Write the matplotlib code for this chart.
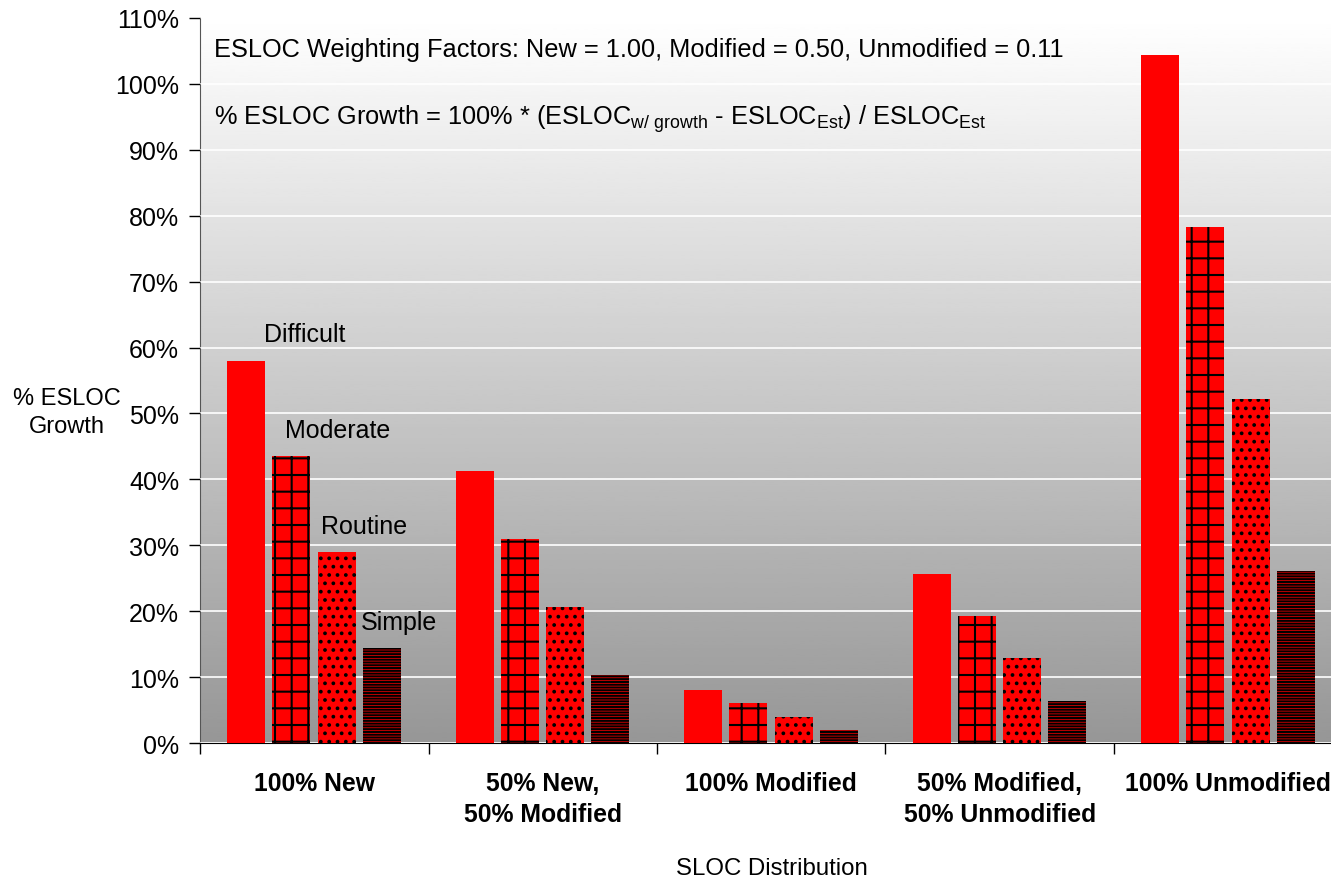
import numpy as np
import matplotlib
matplotlib.use('Agg')
import matplotlib.pyplot as plt

plt.rcParams['font.family'] = ['Liberation Sans', 'DejaVu Sans']
plt.rcParams['mathtext.fontset'] = 'custom'
plt.rcParams['mathtext.rm'] = 'Liberation Sans'
plt.rcParams['mathtext.it'] = 'Liberation Sans'
plt.rcParams['hatch.linewidth'] = 1.5

categories = ['100% New', '50% New,\n50% Modified', '100% Modified',
              '50% Modified,\n50% Unmodified', '100% Unmodified']
levels = ['Difficult', 'Moderate', 'Routine', 'Simple']
growth = {
    'Difficult': [58.0, 41.3, 8.0, 25.6, 104.4],
    'Moderate':  [43.5, 31.0, 6.0, 19.3, 78.3],
    'Routine':   [29.0, 20.6, 4.0, 12.9, 52.2],
    'Simple':    [14.4, 10.3, 2.0, 6.4, 26.1],
}
hatches = {'Difficult': None, 'Moderate': '+', 'Routine': '..', 'Simple': '------'}
yticks = np.arange(0, 111, 10)

fig = plt.figure(figsize=(13.31, 8.78), dpi=100)
ax = fig.add_axes([0.1503, 0.1526, 0.8497, 0.8258])

x = np.arange(len(categories))
ax.set_xlim(-0.5, 4.45)
ax.set_ylim(0, 110)

# grey vertical gradient behind the bars
grad = np.linspace(0.59, 1.0, 256).reshape(-1, 1)
ax.imshow(grad, cmap='gray', vmin=0, vmax=1, origin='lower', aspect='auto',
          extent=[0, 1, 0, 1], transform=ax.transAxes, zorder=0)

offsets = [-0.298, -0.1, 0.098, 0.295]
for lvl, off in zip(levels, offsets):
    h = hatches[lvl]
    ax.bar(x + off, growth[lvl], width=0.166, color='#ff0000',
           edgecolor='black', linewidth=0, hatch=h, zorder=3)

# level names above the first group
lbl_x = [-0.22, -0.128, 0.03, 0.205]
for lvl, lx in zip(levels, lbl_x):
    ax.text(lx, growth[lvl][0] + 4, lvl, fontsize=18, va='center', ha='left', zorder=4)

ax.set_yticks(yticks)
ax.set_yticklabels([f'{v}%' for v in yticks], fontsize=18)
ax.yaxis.grid(True, color='white', linewidth=1.2, zorder=1)
ax.set_axisbelow(False)
ax.tick_params(axis='y', direction='out', length=8, width=1, pad=7)

ax.set_xticks(x)
ax.set_xticklabels(categories, fontsize=17.8, fontweight='bold', linespacing=1.4, va='top')
ax.set_xticks(np.arange(-0.5, 4.5, 1), minor=True)
ax.tick_params(axis='x', which='major', length=0, pad=20)
ax.tick_params(axis='x', which='minor', direction='out', length=8, width=1)

for s in ['top', 'right']:
    ax.spines[s].set_visible(False)
ax.spines['left'].set_color('#555555')
ax.spines['bottom'].set_color('black')

ax.text(0.0124, 0.957, 'ESLOC Weighting Factors: New = 1.00, Modified = 0.50, Unmodified = 0.11',
        transform=ax.transAxes, fontsize=18.3, va='center', ha='left', zorder=4)
ax.text(0.0124, 0.862,
        r'% ESLOC Growth = 100% * (ESLOC$_{\mathregular{w/\ growth}}$ - ESLOC$_{\mathregular{Est}}$) / ESLOC$_{\mathregular{Est}}$',
        transform=ax.transAxes, fontsize=18.3, va='center', ha='left', zorder=4)

fig.text(67 / 1331, 1 - 413 / 878, '% ESLOC\nGrowth', fontsize=17, ha='center', va='center',
         linespacing=1.3)
fig.text(772 / 1331, 1 - 869 / 878, 'SLOC Distribution', fontsize=17.3, ha='center', va='center')

fig.savefig('out.png', dpi=100)
